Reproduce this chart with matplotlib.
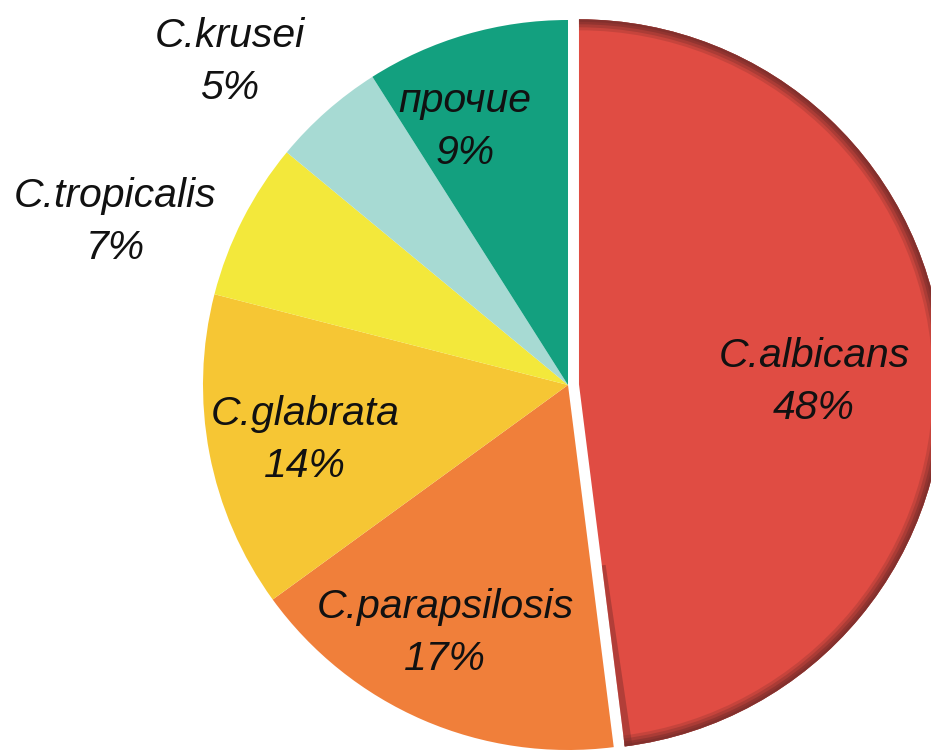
import matplotlib.pyplot as plt
from matplotlib.patches import Wedge

plt.rcParams['font.family'] = ['Liberation Sans', 'DejaVu Sans']

names = ["C.albicans", "C.parapsilosis", "C.glabrata", "C.tropicalis", "C.krusei", "прочие"]
shares = [48, 17, 14, 7, 5, 9]
colors = ["#E04C43", "#F07F3A", "#F6C634", "#F3E83B", "#A7DAD3", "#13A07F"]

# label centres in pixels (x, y from top)
label_pos = [(814, 382), (445, 633), (305, 440), (115, 222), (230, 62), (465, 127)]

W, H = 931, 752
fig = plt.figure(figsize=(W / 100, H / 100), dpi=100)
ax = fig.add_axes([0, 0, 1, 1])

cx, cy, r = 568, H - 385, 365
# explode offset is in data units (pixels here)
explode = [11, 0, 0, 0, 0, 0]
wedges, _ = ax.pie(shares, colors=colors, explode=explode, startangle=90,
                   counterclock=False, center=(cx, cy), radius=r,
                   wedgeprops=dict(linewidth=0))

# pie() sets its own limits, so set ours afterwards
ax.set_xlim(0, W)
ax.set_ylim(0, H)
ax.set_aspect('equal')
ax.axis('off')

# soft bevel on the big slice: a few stacked dark rims
w = wedges[0]
z = w.get_zorder()
for width, alpha in [(11, 0.25), (8, 0.35), (5, 0.5), (2.5, 0.6)]:
    ax.add_patch(Wedge(w.center, w.r, w.theta1, w.theta2, width=width,
                       facecolor="#7A2E2B", linewidth=0, alpha=alpha, zorder=z + 0.1))
# darker lower straight edge
ax.add_patch(Wedge(w.center, w.r, w.theta1, w.theta1 + 1.2, width=w.r * 0.5,
                   facecolor="#7A2E2B", linewidth=0, alpha=0.45, zorder=z + 0.1))

for name, pct, (x, y) in zip(names, shares, label_pos):
    ax.text(x, H - y, f"{name}\n{pct}%", ha='center', va='center', fontsize=29.5,
            style='italic', color='#111111', linespacing=1.45, zorder=10)

fig.savefig("out.png", dpi=100)
